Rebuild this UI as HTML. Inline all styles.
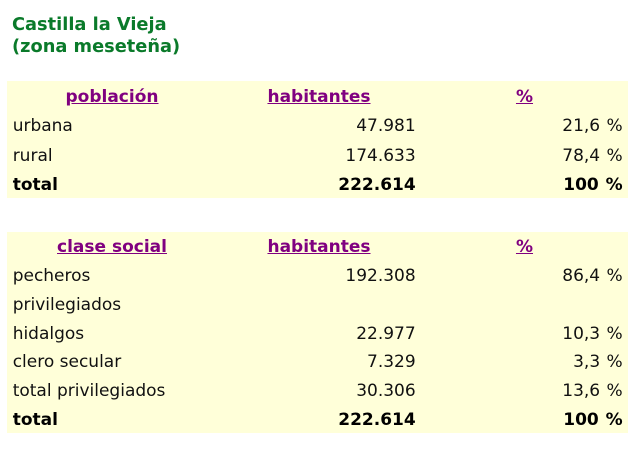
<!DOCTYPE html>
<html>
<head>
<meta charset="utf-8">
<style>
  html,body{margin:0;padding:0;background:#fff;}
  body{width:640px;height:466px;position:relative;overflow:hidden;font-family:"DejaVu Sans","Liberation Sans",sans-serif;color:#111;}
  .title{position:absolute;left:12px;top:13.5px;font-size:17.8px;line-height:22px;font-weight:bold;color:#0a7a2a;white-space:nowrap;}
  .bg{position:absolute;left:7px;width:621px;background:#ffffd9;}
  .r{position:absolute;font-size:17px;line-height:20px;height:20px;white-space:nowrap;}
  .c1{left:12.7px;}
  .h1{left:7px;width:210px;text-align:center;}
  .h2{left:217px;width:204px;text-align:center;}
  .h3{left:421px;width:207px;text-align:center;}
  .n2{left:217px;width:198.7px;text-align:right;}
  .n3{left:421px;width:201.7px;text-align:right;word-spacing:1px;}
  .h{font-weight:bold;color:#800080;text-decoration:underline;word-spacing:0;}
  .b{font-weight:bold;color:#000;}
</style>
</head>
<body>
<div class="title">Castilla la Vieja<br>(zona meseteña)</div>

<div class="bg" style="top:81px;height:117px;"></div>
<div class="r h1 h" style="top:86.8px;">población</div>
<div class="r h2 h" style="top:86.8px;">habitantes</div>
<div class="r h3 h" style="top:86.8px;">%</div>

<div class="r c1" style="top:116.4px;">urbana</div>
<div class="r n2" style="top:116.4px;">47.981</div>
<div class="r n3" style="top:116.4px;">21,6 %</div>

<div class="r c1" style="top:145.8px;">rural</div>
<div class="r n2" style="top:145.8px;">174.633</div>
<div class="r n3" style="top:145.8px;">78,4 %</div>

<div class="r c1 b" style="top:174.8px;">total</div>
<div class="r n2 b" style="top:174.8px;">222.614</div>
<div class="r n3 b" style="top:174.8px;">100 %</div>

<div class="bg" style="top:232px;height:201px;"></div>
<div class="r h1 h" style="top:237.4px;">clase social</div>
<div class="r h2 h" style="top:237.4px;">habitantes</div>
<div class="r h3 h" style="top:237.4px;">%</div>

<div class="r c1" style="top:266.4px;">pecheros</div>
<div class="r n2" style="top:266.4px;">192.308</div>
<div class="r n3" style="top:266.4px;">86,4 %</div>

<div class="r c1" style="top:295px;">privilegiados</div>

<div class="r c1" style="top:324.1px;">hidalgos</div>
<div class="r n2" style="top:324.1px;">22.977</div>
<div class="r n3" style="top:324.1px;">10,3 %</div>

<div class="r c1" style="top:352.4px;">clero secular</div>
<div class="r n2" style="top:352.4px;">7.329</div>
<div class="r n3" style="top:352.4px;">3,3 %</div>

<div class="r c1" style="top:381.4px;">total privilegiados</div>
<div class="r n2" style="top:381.4px;">30.306</div>
<div class="r n3" style="top:381.4px;">13,6 %</div>

<div class="r c1 b" style="top:410.1px;">total</div>
<div class="r n2 b" style="top:410.1px;">222.614</div>
<div class="r n3 b" style="top:410.1px;">100 %</div>
</body>
</html>
